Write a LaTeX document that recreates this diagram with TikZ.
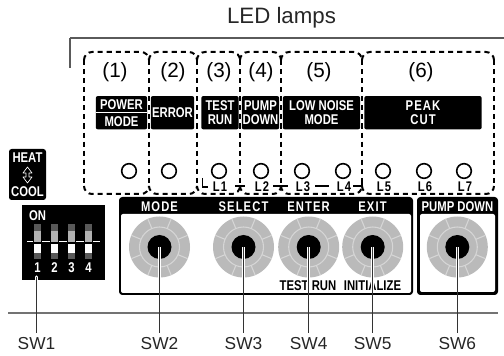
\documentclass[tikz,border=0pt]{standalone}
\usepackage{fontspec}
\setmainfont{Liberation Sans}
\newfontfamily\panelfont[FakeStretch=0.8]{Liberation Sans}
\newfontfamily\spacedfont[FakeStretch=0.8,LetterSpace=8]{Liberation Sans}
\definecolor{rulegray}{HTML}{5A5A5A}
\definecolor{knobgray}{HTML}{BABABA}
\definecolor{knobline}{HTML}{D6D6D6}
\definecolor{leadergray}{HTML}{333333}
\tikzset{
  ledzone/.style={line width=1.5pt,dash pattern=on 3.8pt off 3pt},
  lampbox/.style={fill=black,text=white,rounded corners=1.5pt,minimum height=25pt,inner sep=0pt,align=center,
    font=\panelfont\bfseries\fontsize{10.6}{10.5}\selectfont},
  lamp/.style={circle,draw,line width=1.2pt,minimum size=11pt,inner sep=0pt},
  lampnum/.style={font=\fontsize{15.5}{16}\selectfont},
  tag/.style={font=\spacedfont\bfseries\fontsize{10.5}{11}\selectfont},
  headtag/.style={tag,text=white},
  subtag/.style={font=\panelfont\bfseries\fontsize{10.6}{11}\selectfont},
  swlabel/.style={font=\fontsize{13}{14}\selectfont,text=black!85},
  knobhub/.style={circle,fill=black,minimum size=18pt,inner sep=0pt},
  dipcap/.style={fill=black!65},
}
\begin{document}
\begin{tikzpicture}[x=0.75pt,y=-0.75pt]
  \useasboundingbox (0,0) rectangle (504,356);
  \node[font=\fontsize{16.7}{18}\selectfont,text=black!85] (title) at (281.5,18) {LED lamps};
  \draw[rulegray,line width=1.5pt] (70,38) -- (504,38);
  \draw[rulegray,line width=0.9pt] (70,38) -- (70,68);
  \foreach \xa in {84,149,197,240,281,362,494}
    \draw[ledzone] (\xa,60) -- (\xa,186);
  \foreach \xa/\xb in {84/149,149/197,197/240,240/281,281/362,362/494}{
    \draw[ledzone,rounded corners=6pt] (\xa,60) |- (\xb,52) -- (\xb,60);
    \draw[ledzone,rounded corners=6pt] (\xa,186) |- (\xb,194) -- (\xb,186);
  }
  \foreach \num/\xpos in {1/115,2/173,3/219,4/261,5/319,6/421}
    \node[lampnum] (num\num) at (\xpos,72) {(\num)};
  \node[lampbox,minimum width=38.5pt,font=\panelfont\bfseries\fontsize{10.6}{12.75}\selectfont] (boxpower) at (121.5,112.7) {POWER\\MODE};
  \draw[white,line width=0.8pt] (boxpower.west) -- (boxpower.east);
  \node[lampbox,minimum width=32.5pt] (boxerror) at (172.5,112.7) {ERROR};
  \node[lampbox,minimum width=28pt] (boxtest) at (220,112.7) {TEST\\RUN};
  \node[lampbox,minimum width=28pt] (boxpump) at (260.5,112.7) {PUMP\\DOWN};
  \node[lampbox,minimum width=58pt] (boxnoise) at (321.5,112.7) {LOW NOISE\\MODE};
  \node[lampbox,minimum width=88pt,font=\spacedfont\bfseries\fontsize{10.6}{10.5}\selectfont] (boxpeak) at (423,112.7) {PEAK\\CUT};
  \node[lamp] (lampa) at (129,171) {};
  \node[lamp] (lampb) at (169,171) {};
  \foreach \num/\xpos in {1/219,2/261,3/302,4/343,5/383,6/424,7/464}{
    \node[lamp] (led\num) at (\xpos,171) {};
    \node[tag,inner sep=0pt] (lab\num) at (\xpos+1,186.5) {L\num};
  }
  \draw[line width=1pt] (202.5,178) -- (202.5,187) -- (208,187);
  \draw[line width=1pt] (235,186) -- (245,186);
  \draw[line width=1pt] (273,186) -- (288,186);
  \draw[line width=1pt] (315,186) -- (329,186);
  \draw[line width=1pt] (353,186) -- (362,186) -- (362,178);
  \node[fill=black,rounded corners=2pt,minimum width=27.75pt,minimum height=38.25pt,inner sep=0pt] (modebox) at (27.5,174.5) {};
  \node[subtag,text=white,inner sep=0pt] (heat) at (27.5,158) {HEAT};
  \node[subtag,text=white,inner sep=0pt] (cool) at (27.5,192) {COOL};
  \draw[white,line width=0.5pt,line join=round] (27.5,167) -- (23,173) -- (26,173) -- (26,177) -- (23,177) -- (27.5,183)
    -- (32,177) -- (29,177) -- (29,173) -- (32,173) -- cycle;
  \fill[black] (22,205) rectangle (105,280);
  \node[subtag,text=white,inner sep=0pt] (dipon) at (37.5,216) {ON};
  \draw[white,line width=1pt] (27,241.5) -- (33,241.5) (42,241.5) -- (50,241.5) (59,241.5) -- (67,241.5) (76,241.5) -- (84,241.5) (93,241.5) -- (100,241.5);
  \foreach \num/\xpos in {1/37.5,2/54.5,3/71.5,4/88.5}{
    \fill[dipcap] (\xpos-3.5,224) rectangle (\xpos+3.5,231);
    \fill[black!30] (\xpos-3.5,231) rectangle (\xpos+3.5,242);
    \fill[white] (\xpos-3.5,244) rectangle (\xpos+3.5,253);
    \fill[dipcap] (\xpos-3.5,253) rectangle (\xpos+3.5,259);
    \node[subtag,text=white,inner sep=0pt] (dip\num) at (\xpos,268) {\num};
  }
  \fill[black,rounded corners=2.5pt] (119,197) rectangle (413,295);
  \fill[white,rounded corners=1.5pt] (121,214) rectangle (411,293);
  \fill[black,rounded corners=2.5pt] (417,197) rectangle (498,295);
  \fill[white,rounded corners=1.5pt] (420,214) rectangle (495,292);
  \foreach \num/\xpos in {2/159.5,3/243.5,4/308.7,5/372.7,6/457.3}{
    \fill[knobgray] (\xpos,247) circle (30.5);
    \draw[knobline,line width=0.8pt] (\xpos,247) circle (20);
    \foreach \ang in {22.5,67.5,...,337.5}
      \draw[knobline,line width=0.8pt] (\xpos,247) ++(\ang:20) -- ++(\ang:10.5);
    \node[knobhub] (hub\num) at (\xpos,247) {};
    \node[swlabel] (sw\num) at (\xpos,343.5) {SW\num};
  }
  \node[headtag] (headmode) at (159.5,206.5) {MODE};
  \node[headtag] (headselect) at (243.5,206.5) {SELECT};
  \node[headtag] (headenter) at (308.5,206.5) {ENTER};
  \node[headtag] (headexit) at (372.5,206.5) {EXIT};
  \node[subtag,text=white] (headpump) at (457.5,206.5) {PUMP DOWN};
  \node[subtag,inner sep=0pt] (subtest) at (308,285.5) {TEST RUN};
  \node[subtag,inner sep=0pt] (subinit) at (372.5,285.5) {INITIALIZE};
  \node[swlabel] (sw1) at (36.5,343.5) {SW1};
  \coordinate (dipend) at (36.5,277);
  \draw[rulegray!85,line width=1.4pt] (8,313) -- (498,313);
  \draw[white,line width=2.6pt,line cap=round] (dipend) -- (36.5,283);
  \draw[leadergray,line width=1pt] (dipend) -- (sw1.north);
  \foreach \num in {2,...,6}{
    \draw[white,line width=2.6pt] (hub\num.center) -- (hub\num.center |- subtest.south);
    \draw[leadergray,line width=1pt] (hub\num.center) -- (sw\num.north);
  }
\end{tikzpicture}
\end{document}
